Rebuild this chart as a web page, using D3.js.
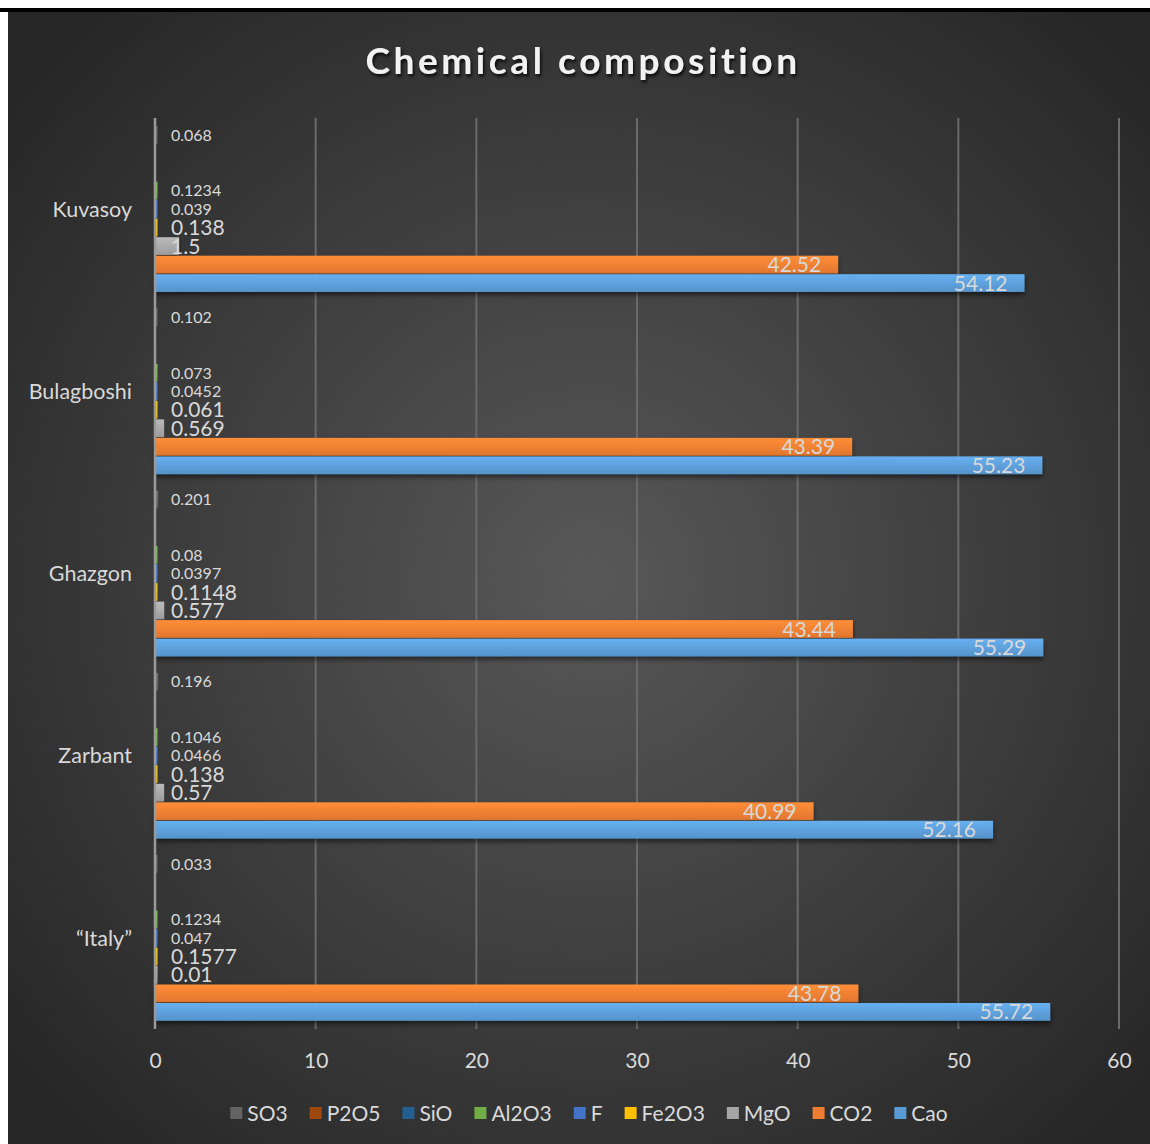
<!DOCTYPE html>
<html><head><meta charset="utf-8">
<script src="https://cdn.jsdelivr.net/npm/d3@7"></script>
<style>
html,body{margin:0;padding:0;background:#fff;}
svg{display:block;}
</style></head>
<body>
<svg id="chart" width="1150" height="1144"></svg>
<script>
const categories = ["Kuvasoy", "Bulagboshi", "Ghazgon", "Zarbant", "\u201cItaly\u201d"];
const seriesNames = ["SO3", "P2O5", "SiO", "Al2O3", "F", "Fe2O3", "MgO", "CO2", "Cao"];
const seriesColors = ["#636363", "#9e480e", "#255e91", "#70ad47", "#4472c4", "#ffc000", "#a5a5a5", "#ed7d31", "#5b9bd5"];
const SO3   = [0.068, 0.102, 0.201, 0.196, 0.033];
const P2O5  = [null, null, null, null, null];
const SiO   = [null, null, null, null, null];
const Al2O3 = [0.1234, 0.073, 0.08, 0.1046, 0.1234];
const F     = [0.039, 0.0452, 0.0397, 0.0466, 0.047];
const Fe2O3 = [0.138, 0.061, 0.1148, 0.138, 0.1577];
const MgO   = [1.5, 0.569, 0.577, 0.57, 0.01];
const CO2   = [42.52, 43.39, 43.44, 40.99, 43.78];
const Cao   = [54.12, 55.23, 55.29, 52.16, 55.72];
const seriesValues = [SO3, P2O5, SiO, Al2O3, F, Fe2O3, MgO, CO2, Cao];
const xTicks = [0, 10, 20, 30, 40, 50, 60];

const W = 1150, H = 1144;
const margin = {left: 155, right: 31, top: 118, bottom: 115};
const font = "Lato, 'Open Sans', sans-serif";
const textCol = "#d9d9d9";

const svg = d3.select("#chart");
const defs = svg.append("defs");

const rg = defs.append("radialGradient").attr("id", "bg")
  .attr("gradientUnits", "userSpaceOnUse").attr("cx", 590).attr("cy", 580).attr("r", 760);
rg.append("stop").attr("offset", "0").attr("stop-color", "#585858");
rg.append("stop").attr("offset", "1").attr("stop-color", "#262626");

seriesColors.forEach((c, i) => {
  const lg = defs.append("linearGradient").attr("id", "g" + i).attr("x1", 0).attr("x2", 0).attr("y1", 0).attr("y2", 1);
  lg.append("stop").attr("offset", "0").attr("stop-color", d3.color(c).brighter(0.35));
  lg.append("stop").attr("offset", "1").attr("stop-color", d3.color(c).darker(0.15));
});

const sh = defs.append("filter").attr("id", "shadow").attr("x", "-5%").attr("y", "-50%").attr("width", "110%").attr("height", "250%");
sh.append("feDropShadow").attr("dx", 0).attr("dy", 3).attr("stdDeviation", 2.5).attr("flood-color", "#000").attr("flood-opacity", 0.55);

const tsh = defs.append("filter").attr("id", "tshadow").attr("x", "-10%").attr("y", "-30%").attr("width", "120%").attr("height", "160%");
tsh.append("feDropShadow").attr("dx", 1.5).attr("dy", 2.5).attr("stdDeviation", 1.5).attr("flood-color", "#000").attr("flood-opacity", 0.8);

// frame
svg.append("rect").attr("x", 0).attr("y", 8).attr("width", W).attr("height", 4).attr("fill", "#000");
svg.append("rect").attr("x", 8).attr("y", 12).attr("width", W - 8).attr("height", H - 12).attr("fill", "url(#bg)");

const x = d3.scaleLinear().domain([0, 60]).range([margin.left, W - margin.right]);
const y = d3.scaleBand().domain(categories).range([margin.top, H - margin.bottom]).paddingInner(0).paddingOuter(0);
const inner = d3.scaleBand().domain(seriesNames).range([7.5, y.bandwidth() - 7.5]).padding(0.04);

// gridlines
svg.append("g").selectAll("line").data(xTicks.filter(t => t > 0)).join("line")
  .attr("x1", d => x(d)).attr("x2", d => x(d))
  .attr("y1", margin.top).attr("y2", H - margin.bottom)
  .attr("stroke", "#6a6a6a").attr("stroke-width", 2);

// tick labels
const xAxis = d3.axisBottom(x).tickValues(xTicks).tickSize(0).tickPadding(0);
const ax = svg.append("g").attr("transform", `translate(0,${H - margin.bottom + 39})`).call(xAxis);
ax.select(".domain").remove();
ax.selectAll("text").attr("font-family", font).attr("font-size", 21).attr("fill", textCol).attr("dy", 0);

// bars
const groups = svg.append("g").selectAll("g").data(categories).join("g")
  .attr("transform", d => `translate(0,${y(d)})`);

const barData = (ci) => seriesNames.map((s, si) => ({s, si, v: seriesValues[si][ci]})).filter(d => d.v != null);

groups.each(function(cat, ci) {
  const g = d3.select(this);
  const data = barData(ci);
  g.selectAll("rect").data(data).join("rect")
    .attr("x", x(0))
    .attr("y", d => inner(d.s))
    .attr("height", inner.bandwidth())
    .attr("width", d => Math.max(x(d.v) - x(0), 2.5))
    .attr("fill", d => `url(#g${d.si})`)
    .attr("filter", d => d.v > 1 ? "url(#shadow)" : null);
  g.selectAll("text").data(data).join("text")
    .attr("font-family", font)
    .attr("fill", textCol)
    .attr("font-size", d => (d.s === "SO3" || d.s === "Al2O3" || d.s === "F") ? 16 : 21)
    .attr("text-anchor", d => d.v > 10 ? "end" : "start")
    .attr("x", d => d.v > 10 ? x(d.v) - 17 : x(0) + 16)
    .attr("y", d => inner(d.s) + inner.bandwidth() / 2)
    .attr("dy", "0.36em")
    .text(d => d.v);
});

// axis line
svg.append("line").attr("x1", x(0)).attr("x2", x(0)).attr("y1", margin.top).attr("y2", H - margin.bottom)
  .attr("stroke", "#9a9a9a").attr("stroke-width", 2.5);

// category labels
svg.append("g").selectAll("text").data(categories).join("text")
  .attr("x", 132).attr("y", d => y(d) + y.bandwidth() / 2).attr("dy", "0.36em")
  .attr("text-anchor", "end").attr("font-family", font).attr("font-size", 21.5).attr("fill", textCol)
  .text(d => d);

// title
svg.append("text").attr("x", 583).attr("y", 74).attr("text-anchor", "middle")
  .attr("font-family", font).attr("font-weight", "bold").attr("font-size", 37).attr("letter-spacing", 3.6)
  .attr("fill", "#f2f2f2").attr("filter", "url(#tshadow)")
  .text("Chemical composition");

// legend
const leg = svg.append("g");
const items = leg.selectAll("g").data(seriesNames).join("g");
items.append("rect").attr("width", 12).attr("height", 12).attr("y", -6).attr("fill", (d, i) => seriesColors[i]);
items.append("text").attr("x", 17).attr("dy", "0.36em").attr("font-family", font).attr("font-size", 21).attr("fill", textCol).text(d => d);
let cx = 0;
const offsets = [];
items.each(function() {
  offsets.push(cx);
  const w = d3.select(this).select("text").node().getComputedTextLength();
  cx += 17 + w + 22;
});
const total = cx - 22;
const start = 589 - total / 2;
items.attr("transform", (d, i) => `translate(${start + offsets[i]},1113)`);
</script>
</body></html>
